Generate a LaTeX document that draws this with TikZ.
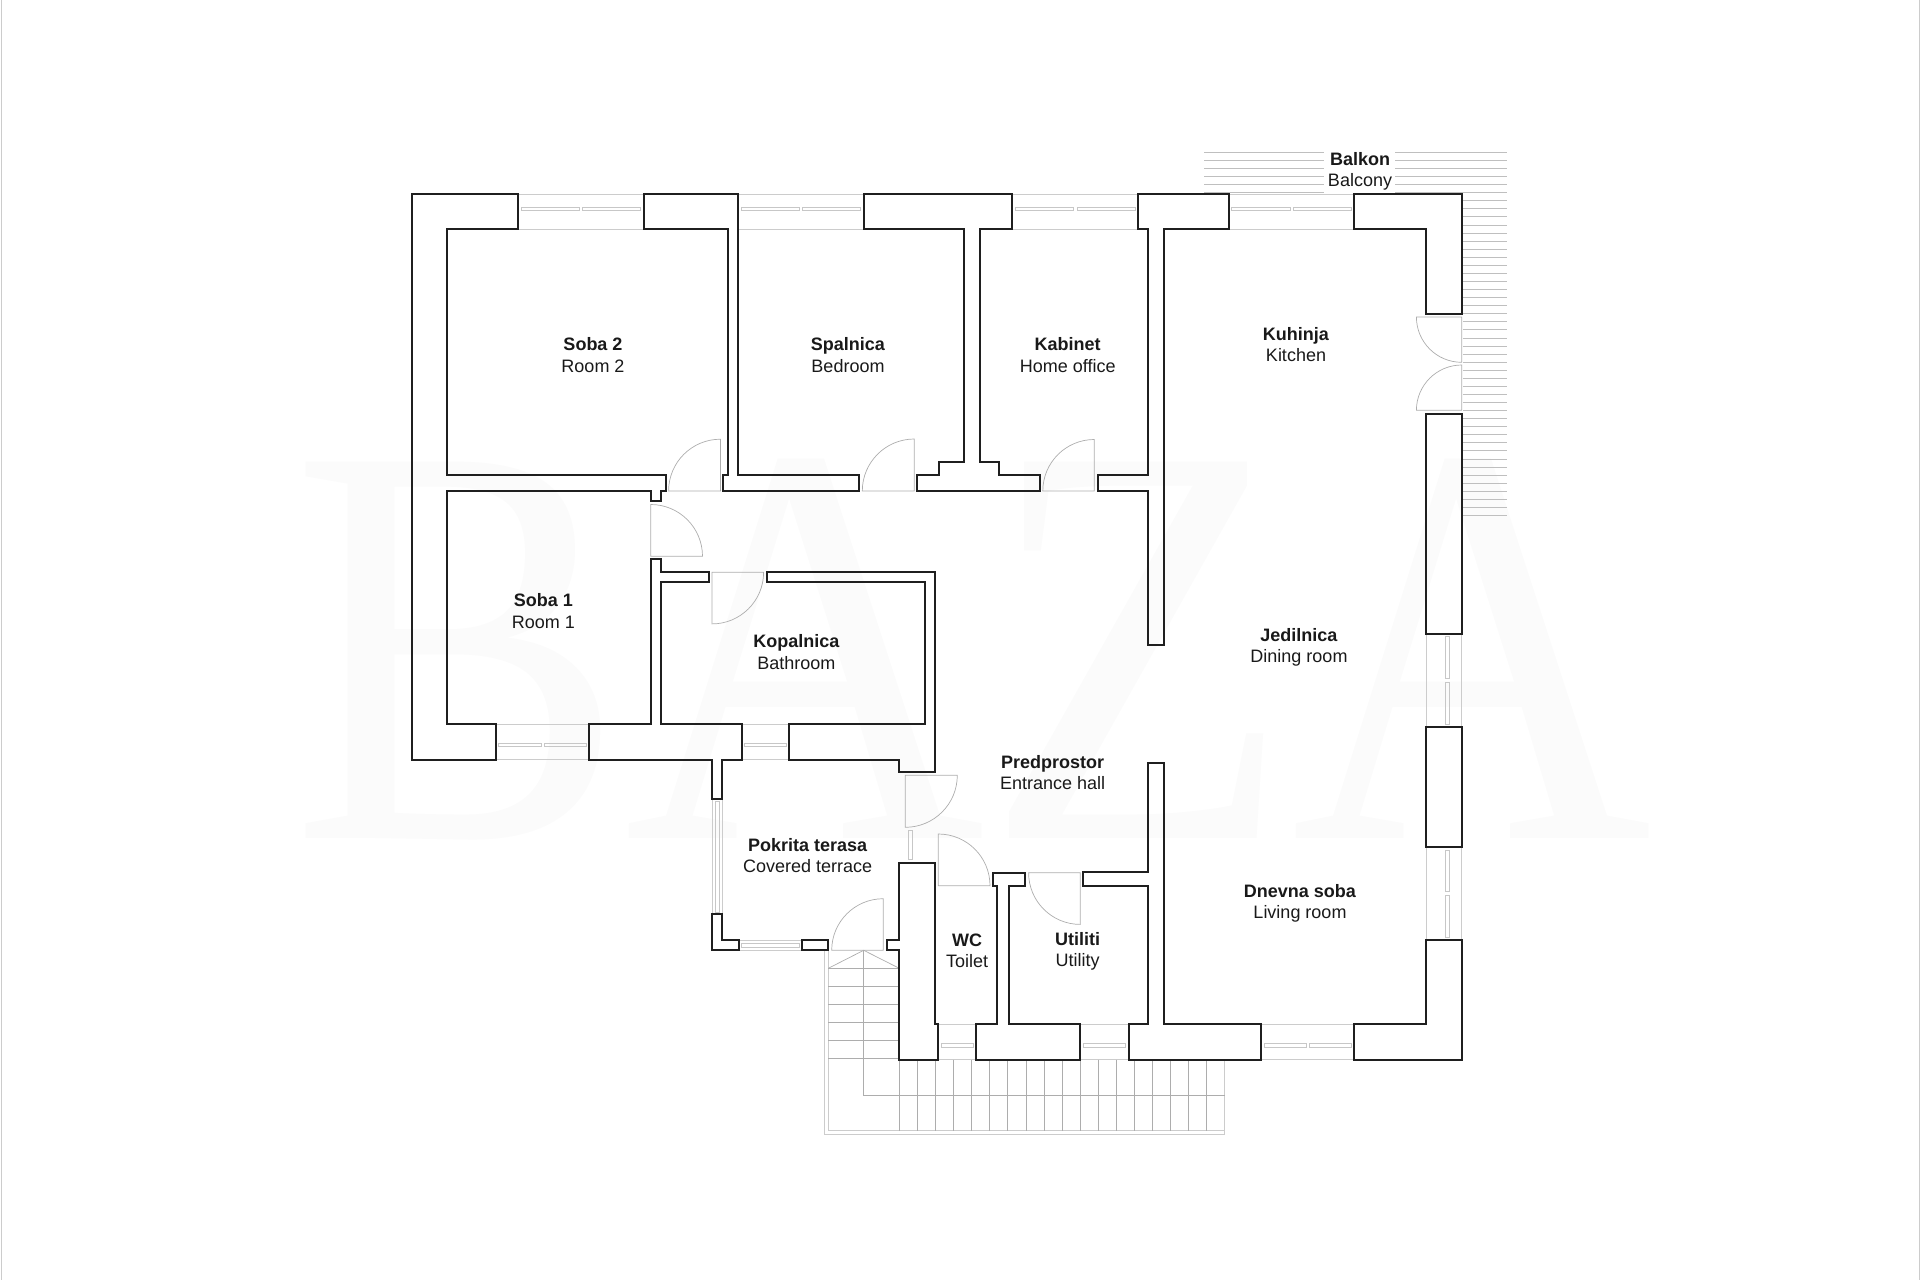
\documentclass[tikz,border=0pt]{standalone}
\usepackage{fontspec}
\setmainfont{Liberation Sans}
\newfontfamily\markfont{Liberation Serif}

\begin{document}
\begin{tikzpicture}[x=1pt,y=-1pt,
    wall/.style={draw=black!88,line width=2pt,line join=miter},
    frameline/.style={draw=black!20,line width=1pt},
    pane/.style={draw=black!22,line width=0.9pt},
    doorleaf/.style={draw=black!32,line width=0.7pt},
    hatch/.style={draw=black!25,line width=0.8pt},
    stair/.style={draw=black!32,line width=0.7pt},
    stairedge/.style={draw=black!20,line width=1pt},
    room/.style={align=center,text=black!90,font=\fontsize{18}{21.2}\selectfont,inner sep=0pt}]
    \useasboundingbox (0,0) rectangle (1920,1280);
    \node (mark) [anchor=base,xscale=0.87,text=black!1.5,font=\markfont\fontsize{575}{575}\selectfont] at (972,838) {BAZA};
    \draw[frameline] (1,0) -- (1,1280);
    \draw[frameline] (1919,0) -- (1919,1280);

    \foreach \i in {0,...,5}
        \draw[hatch] (1204,{152.3+8.07*\i}) -- (1324,{152.3+8.07*\i}) (1395,{152.3+8.07*\i}) -- (1507,{152.3+8.07*\i});
    \foreach \i in {6,...,45}
        \draw[hatch] (1463,{152.3+8.07*\i}) -- (1507,{152.3+8.07*\i});

    \foreach \xa/\xb/\ya/\yb in {518/644/194/229,738/864/194/229,1012/1138/194/229,1229/1354/194/229,
        496/589/724/759.5,742/789/724/759.5,739/802/940.3/950.3,938/976/1024/1059.5,1080/1129/1024/1059.5,1261/1354/1024/1059.5}
        \draw[frameline] (\xa,\ya) -- (\xb,\ya) (\xa,\yb) -- (\xb,\yb);
    \foreach \xa/\xb/\ya/\yb in {1426.5/1461.7/634/727,1426.5/1461.7/847/940,712/722/799/914}
        \draw[frameline] (\xa,\ya) -- (\xa,\yb) (\xb,\ya) -- (\xb,\yb);

    \foreach \xa/\xb/\ya/\yb in {521.2/579.6/207.7/210.7,582.9/640.8/207.7/210.7,741/799/207.7/210.7,802.4/860.4/207.7/210.7,
        1015.3/1073.7/207.7/210.7,1077/1135.7/207.7/210.7,1231.7/1290/207.7/210.7,1293/1351.7/207.7/210.7,
        498.2/541/743.3/746.7,544.3/586.8/743.3/746.7,744.3/786.8/743.3/746.7,741.7/799.7/943.3/947,
        941/973.7/1043.7/1047,1083.3/1125.7/1043.7/1047,1264.3/1306.7/1043.7/1047,1309.3/1351.7/1043.7/1047,
        1445.7/1449.3/636.7/678.7,1445.7/1449.3/682/724,1445.7/1449.3/850/891.7,1445.7/1449.3/895/937.3,
        715.3/719/801/912,908.7/912.3/830.3/859.3}
        \draw[pane] (\xa,\ya) rectangle (\xb,\yb);

    \foreach \cx/\cy/\rad/\sa/\ea in {720.4/491/51.8/90/180,914.3/491/52/90/180,1094.3/491/51.5/90/180,650.7/556.3/51.8/90/0,
        712/572.3/51.6/0/-90,905.3/775.3/52/0/-90,938.3/885.7/51.7/90/0,1080.3/872.7/51.7/180/270,883.3/950.3/51.6/90/180,
        1461.7/317/45.3/180/270,1461.7/410.3/45.3/90/180}
        \draw[doorleaf] (\cx,\cy) -- ++(\sa:\rad pt) arc[start angle=\sa,end angle=\ea,radius=\rad pt] -- cycle;

    \draw[stairedge] (824.7,950.3) -- (824.7,1134) -- (1224.7,1134) -- (1224.7,1059.5);
    \draw[stairedge] (828.3,950.3) -- (828.3,1130.5) -- (1224.7,1130.5);
    \draw[stair] (828.3,968.3) -- (863.7,950.3) -- (899.3,968.3);
    \draw[stair] (863.7,950.3) -- (863.7,1095) -- (1224.7,1095);
    \foreach \i in {0,...,5}
        \draw[stair] (828.3,{968.3+18*\i}) -- (899.3,{968.3+18*\i});
    \foreach \i in {0,...,17}
        \draw[stair] ({899.3+18.08*\i},1059.5) -- ({899.3+18.08*\i},1130.5);

    \draw[wall] (411.5,194) -- (518,194) -- (518,229) -- (447,229) -- (447,475) -- (665.5,475) -- (665.5,491) -- (660.5,491) -- (660.5,501) -- (651,501) -- (651,491) -- (447,491) -- (447,723.5) -- (496,723.5) -- (496,759.5) -- (411.5,759.5) -- cycle;
    \draw[wall] (644,194) -- (738,194) -- (738,475) -- (859,475) -- (859,491) -- (723.3,491) -- (723.3,475) -- (728.2,475) -- (728.2,229) -- (644,229) -- cycle;
    \draw[wall] (863.7,194) -- (1012,194) -- (1012,229) -- (979.6,229) -- (979.6,461.7) -- (999.2,461.7) -- (999.2,475) -- (1040,475) -- (1040,491) -- (916.7,491) -- (916.7,475) -- (938.8,475) -- (938.8,461.7) -- (964,461.7) -- (964,229) -- (863.7,229) -- cycle;
    \draw[wall] (1138,194) -- (1229,194) -- (1229,229) -- (1164,229) -- (1164,645) -- (1148.3,645) -- (1148.3,491) -- (1097.7,491) -- (1097.7,475) -- (1148.3,475) -- (1148.3,229) -- (1138,229) -- cycle;
    \draw[wall] (1354,194) -- (1462,194) -- (1462,313.7) -- (1426.3,313.7) -- (1426.3,229) -- (1354,229) -- cycle;
    \draw[wall] (1426.3,413.7) rectangle (1462,633.7);
    \draw[wall] (1426.3,727) rectangle (1462,846.7);
    \draw[wall] (1426.3,940) -- (1462,940) -- (1462,1059.5) -- (1354.3,1059.5) -- (1354.3,1024) -- (1426.3,1024) -- cycle;
    \draw[wall] (1128.7,1059.5) -- (1261.3,1059.5) -- (1261.3,1024) -- (1164,1024) -- (1164,762.7) -- (1148,762.7) -- (1148,872.3) -- (1083,872.3) -- (1083,885.7) -- (1148,885.7) -- (1148,1024) -- (1128.7,1024) -- cycle;
    \draw[wall] (976.3,1024) -- (996.7,1024) -- (996.7,886) -- (992.7,886) -- (992.7,872.7) -- (1025.3,872.7) -- (1025.3,886) -- (1009,886) -- (1009,1024) -- (1080.3,1024) -- (1080.3,1059.5) -- (976.3,1059.5) -- cycle;
    \draw[wall] (899.3,863) -- (935,863) -- (935,1024) -- (938.3,1024) -- (938.3,1059.5) -- (899.3,1059.5) -- (899.3,950.3) -- (886.7,950.3) -- (886.7,940.3) -- (899.3,940.3) -- cycle;
    \draw[wall] (802.3,940.3) rectangle (828.3,950.3);
    \draw[wall] (711.7,914.3) -- (722,914.3) -- (722,940.3) -- (738.7,940.3) -- (738.7,950.3) -- (711.7,950.3) -- cycle;
    \draw[wall] (650.7,559) -- (660.7,559) -- (660.7,572) -- (708.6,572) -- (708.6,582) -- (660.7,582) -- (660.7,723.5) -- (741.8,723.5) -- (741.8,759.5) -- (721.8,759.5) -- (721.8,798.7) -- (711.8,798.7) -- (711.8,759.5) -- (589.3,759.5) -- (589.3,723.5) -- (650.7,723.5) -- cycle;
    \draw[wall] (767.1,572) -- (935.4,572) -- (935.4,772.3) -- (899.3,772.3) -- (899.3,759.5) -- (789.3,759.5) -- (789.3,723.5) -- (925.4,723.5) -- (925.4,582) -- (767.1,582) -- cycle;

    \node (balkon) [room] at (1360,171.6) {\textbf{Balkon}\\Balcony};
    \node (soba2) [room] at (593,355) {\textbf{Soba 2}\\Room 2};
    \node (spalnica) [room] at (848,355) {\textbf{Spalnica}\\Bedroom};
    \node (kabinet) [room] at (1067.7,355) {\textbf{Kabinet}\\Home office};
    \node (kuhinja) [room] at (1296,344.8) {\textbf{Kuhinja}\\Kitchen};
    \node (soba1) [room] at (543.3,611) {\textbf{Soba 1}\\Room 1};
    \node (kopalnica) [room] at (796.4,652) {\textbf{Kopalnica}\\Bathroom};
    \node (jedilnica) [room] at (1299,647.6) {\textbf{Jedilnica}\\Dining room};
    \node (predprostor) [room] at (1052.7,772.4) {\textbf{Predprostor}\\Entrance hall};
    \node (terasa) [room] at (807.7,855.4) {\textbf{Pokrita terasa}\\Covered terrace};
    \node (wc) [room] at (967,950.6) {\textbf{WC}\\Toilet};
    \node (utiliti) [room] at (1077.7,951) {\textbf{Utiliti}\\Utility};
    \node (dnevna) [room] at (1300,903) {\textbf{Dnevna soba}\\Living room};
\end{tikzpicture}
\end{document}
